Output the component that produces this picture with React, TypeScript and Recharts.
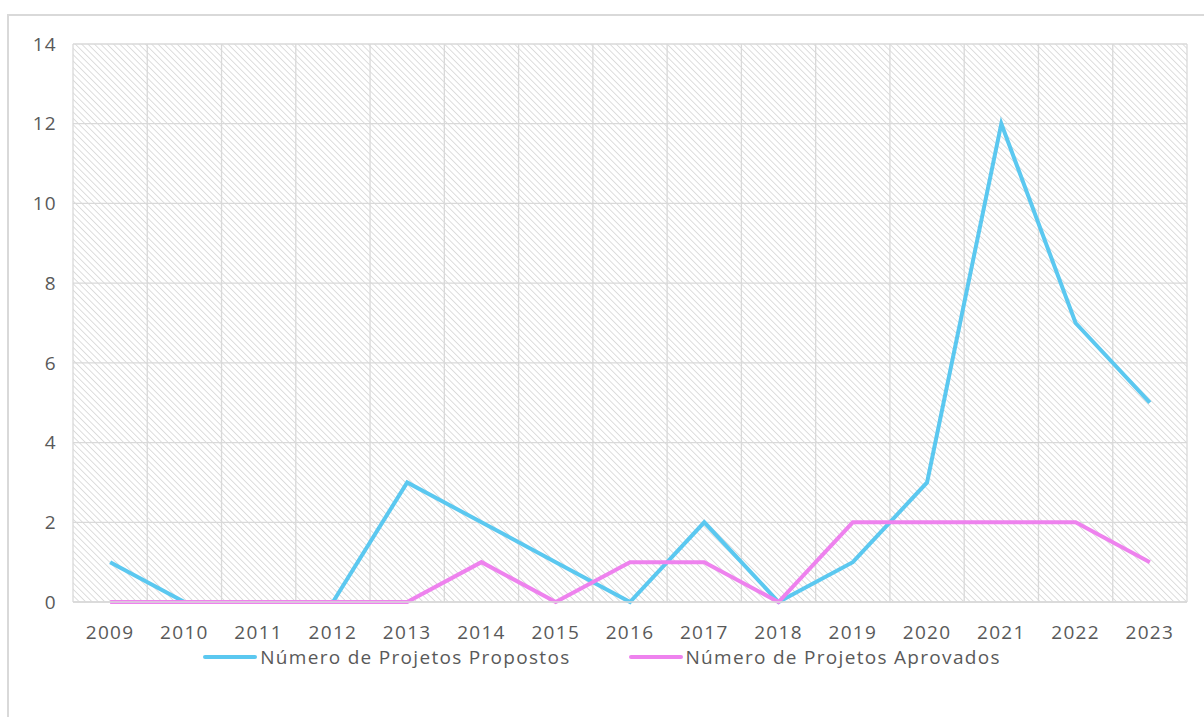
import React from "react";
import { LineChart, Line, XAxis, YAxis, CartesianGrid, Legend } from "recharts";

const years = ["2009","2010","2011","2012","2013","2014","2015","2016","2017","2018","2019","2020","2021","2022","2023"];
const propostos = [1,0,0,0,3,2,1,0,2,0,1,3,12,7,5];
const aprovados = [0,0,0,0,0,1,0,1,1,0,2,2,2,2,1];
const yTicks = [0,2,4,6,8,10,12,14];

const NAME_P = "Número de Projetos Propostos";
const NAME_A = "Número de Projetos Aprovados";
const BLUE = "#5BC8F0";
const PINK = "#EE82EE";

const data = years.map((y, i) => ({ year: y, p: propostos[i], a: aprovados[i] }));

const FONT = "'Open Sans', sans-serif";
const TXT = "#595959";
const FS = 19;
const LS = 1.3;

const LegendContent = () => (
  <div style={{ display: "flex", justifyContent: "center", alignItems: "center", fontFamily: FONT, fontSize: FS, color: TXT, letterSpacing: LS }}>
    {[{ n: NAME_P, c: BLUE }, { n: NAME_A, c: PINK }].map((it, i) => (
      <div key={i} style={{ display: "flex", alignItems: "center", marginLeft: i ? 58 : 0 }}>
        <div style={{ width: 54, height: 4, background: it.c, borderRadius: 2, marginRight: 3 }} />
        <span>{it.n}</span>
      </div>
    ))}
  </div>
);

const bandLines = ({ offset }: any) => {
  const n = years.length;
  const out: number[] = [];
  for (let i = 0; i <= n; i++) out.push(offset.left + (offset.width * i) / n);
  return out;
};

export default function App() {
  return (
    <div style={{ position: "absolute", left: 0, top: 0, width: 1204, height: 717, overflow: "hidden", background: "#fff" }}>
      <div style={{ position: "absolute", left: 7, top: 14, width: 1220, height: 740, border: "2px solid #d9d9d9", boxSizing: "border-box" }} />
      <div style={{ position: "absolute", left: 0, top: 0 }}>
        <LineChart width={1204} height={717} data={data} margin={{ top: 44, right: 17, left: 13, bottom: 49 }}>
          <defs>
            <pattern id="hatch" patternUnits="userSpaceOnUse" width="4.5" height="4.5" patternTransform="rotate(45)">
              <rect width="4.5" height="4.5" fill="#ffffff" />
              <line x1="0" y1="0" x2="4.5" y2="0" stroke="#dadada" strokeWidth="1.8" />
            </pattern>
          </defs>
          <CartesianGrid fill="url(#hatch)" stroke="#d9d9d9" strokeWidth={1.3} verticalCoordinatesGenerator={bandLines} />
          <XAxis dataKey="year" scale="band" axisLine={{ stroke: "#d9d9d9", strokeWidth: 1.5 }} tickLine={false} height={40} tickMargin={18}
            tick={{ fill: TXT, fontSize: FS, fontFamily: FONT, letterSpacing: LS }} interval={0} />
          <YAxis domain={[0, 14]} ticks={yTicks} axisLine={false} tickLine={false} width={60} tickMargin={10}
            tick={{ fill: TXT, fontSize: FS, fontFamily: FONT, letterSpacing: LS }} />
          <Legend verticalAlign="bottom" content={<LegendContent />} wrapperStyle={{ top: 644, left: 0, width: 1204 }} />
          <Line type="linear" dataKey="p" name={NAME_P} stroke={BLUE} strokeWidth={4} dot={false} isAnimationActive={false} />
          <Line type="linear" dataKey="a" name={NAME_A} stroke={PINK} strokeWidth={4} dot={false} isAnimationActive={false} />
        </LineChart>
      </div>
    </div>
  );
}
